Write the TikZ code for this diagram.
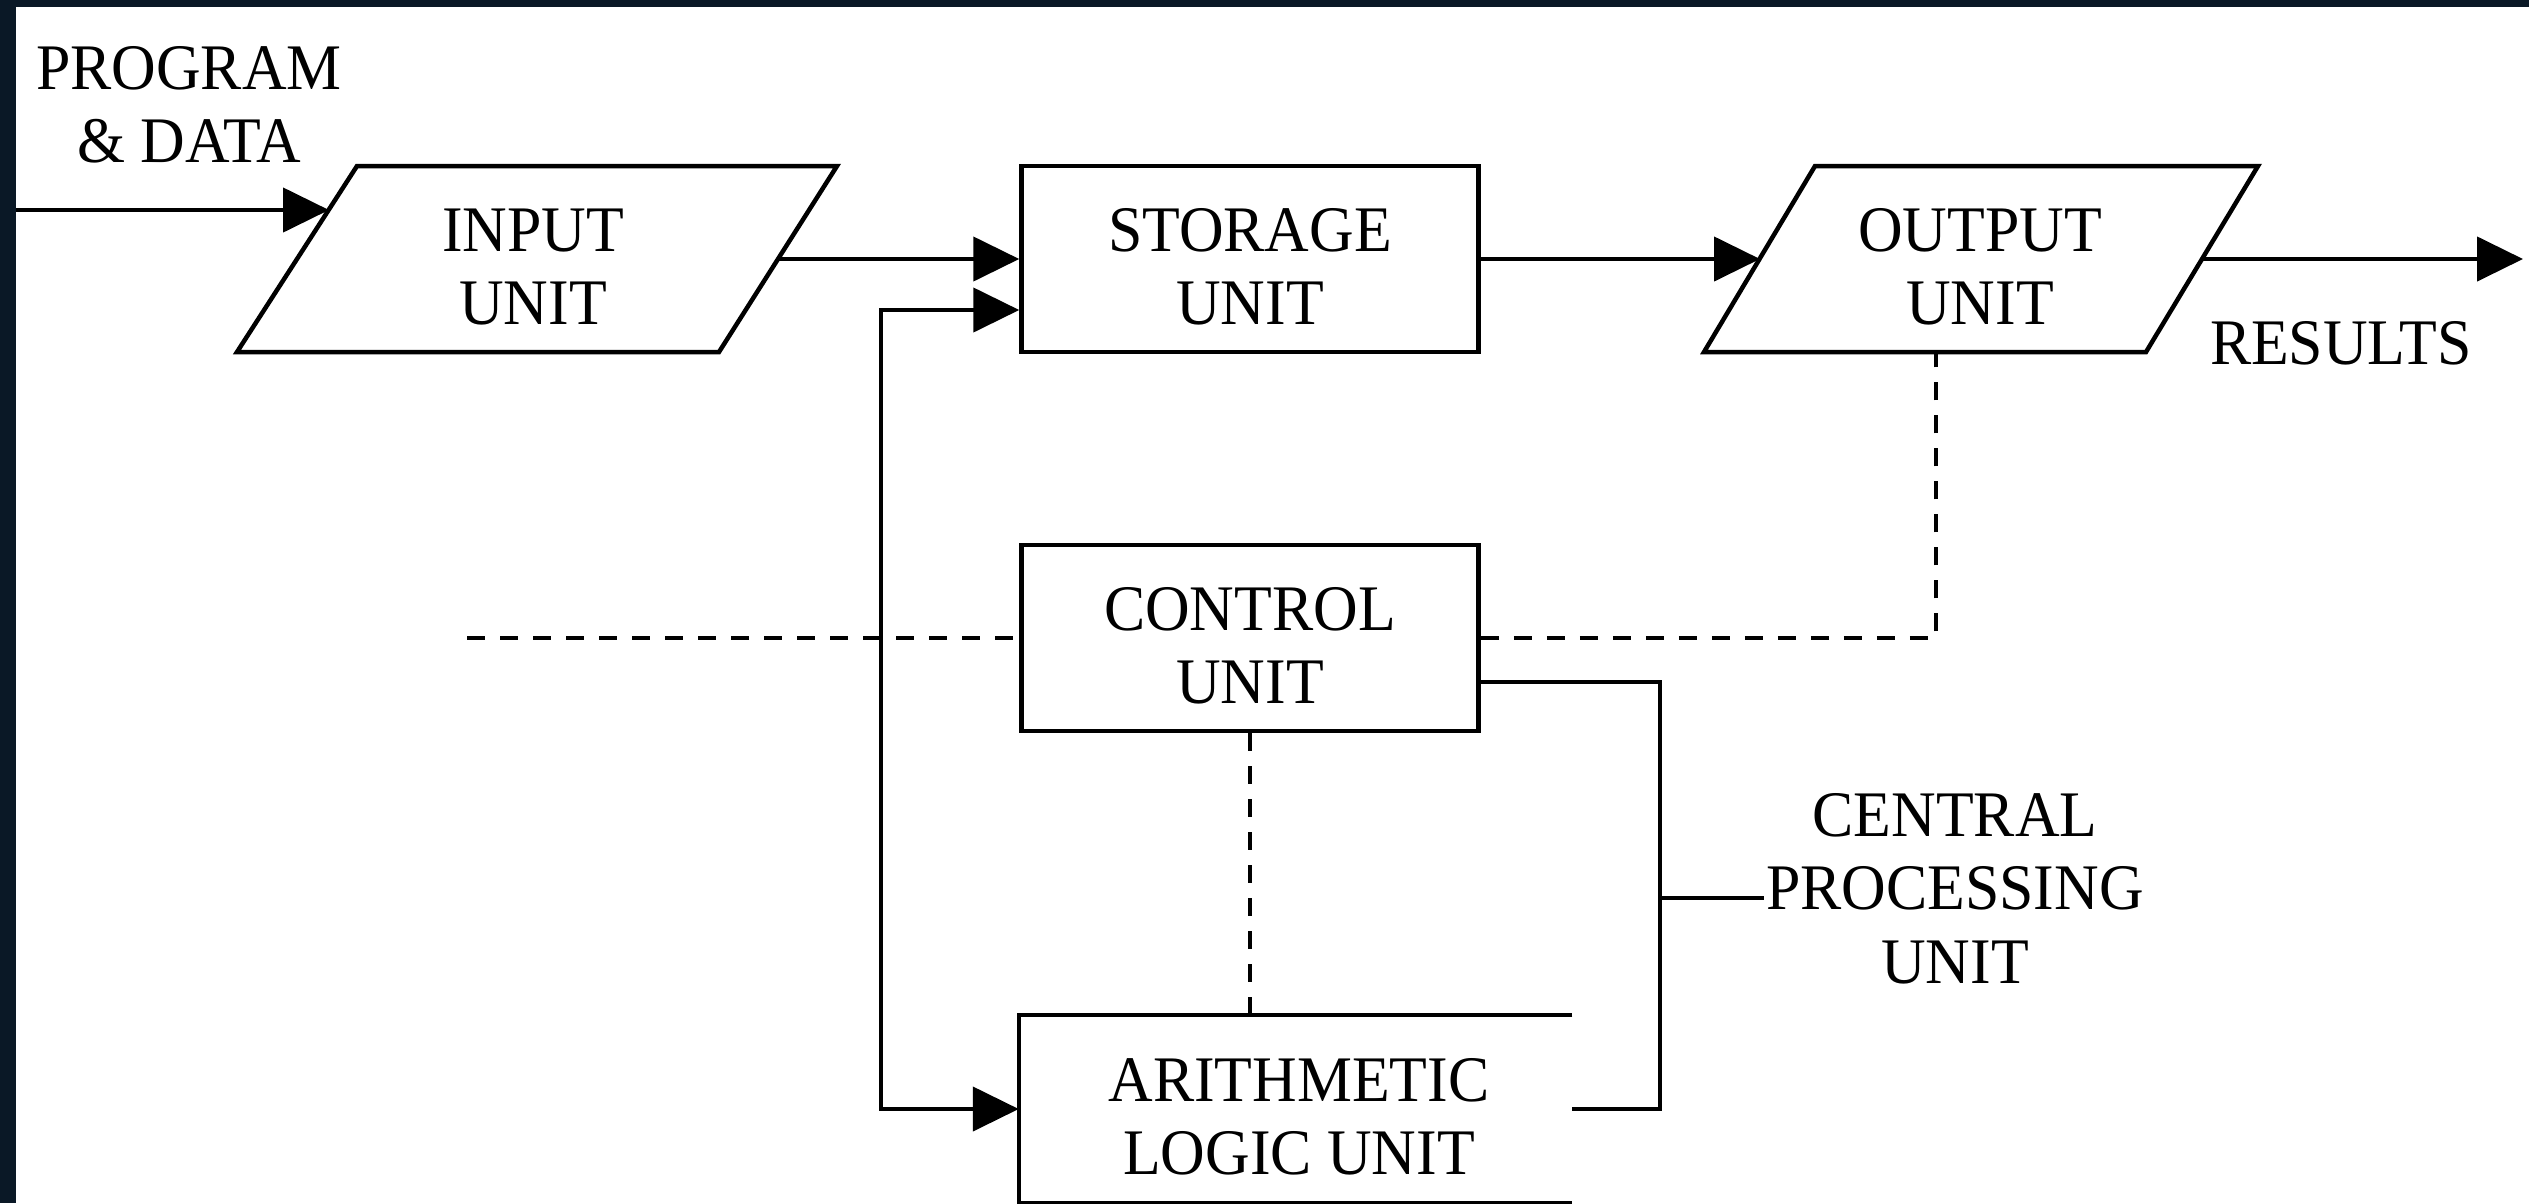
\documentclass[tikz,border=0pt]{standalone}
\usepackage{fontspec}
\setmainfont[FakeStretch=0.95]{Liberation Serif}
\usetikzlibrary{arrows.meta}
\definecolor{navyband}{RGB}{10,24,38}
\begin{document}
\begin{tikzpicture}[x=1pt,y=-1pt,line width=4.5pt,
  box/.style={draw,rectangle,minimum width=457pt,minimum height=186pt,inner sep=0pt},
  lbl/.style={align=center,font=\fontsize{65}{73.5}\selectfont,inner sep=0pt},
  arr/.style={-{Triangle[length=46pt,width=44pt]}},
  arrboth/.style={{Triangle[length=46pt,width=44pt]}-{Triangle[length=46pt,width=44pt]}},
  dsh/.style={dash pattern=on 18pt off 15pt}]
\useasboundingbox (0,0) rectangle (2529,1203);
\fill[white] (0,0) rectangle (2529,1203);
\fill[navyband] (0,0) rectangle (2529,7);
\fill[navyband] (0,0) rectangle (16,1203);

% boxes
\node[box] (stor) at (1250,259) {};
\node[lbl] (storT) at (1250,267) {STORAGE\\UNIT};
\node[box] (ctrl) at (1250,638) {};
\node[lbl] (ctrlT) at (1250,646) {CONTROL\\UNIT};
\node[minimum width=549pt,minimum height=184pt,inner sep=0pt] (alu) at (1295.5,1109) {};
\draw (alu.north east) -- (alu.north west) -- (alu.south west) -- (alu.south east);
\node[lbl] (aluT) at (1299,1117) {ARITHMETIC\\LOGIC UNIT};

% input parallelogram
\coordinate (iTL) at (357,166);
\coordinate (iTR) at (837,166);
\coordinate (iBR) at (719,352);
\coordinate (iBL) at (237,352);
\draw (iTL) -- (iTR) -- (iBR) -- (iBL) -- cycle;
\node[lbl] (inT) at (533,267) {INPUT\\UNIT};
\coordinate (inW) at (329,210);
\coordinate (inE) at (778,259);

% output parallelogram
\coordinate (oTL) at (1815,166);
\coordinate (oTR) at (2258,166);
\coordinate (oBR) at (2146,352);
\coordinate (oBL) at (1704,352);
\draw (oTL) -- (oTR) -- (oBR) -- (oBL) -- cycle;
\node[lbl] (outT) at (1980,267) {OUTPUT\\UNIT};
\coordinate (outW) at (1760,259);
\coordinate (outE) at (2202,259);
\coordinate (outS) at (1936,352);

% labels
\node[lbl] (pd) at (189,105) {PROGRAM\\\& DATA};
\node[lbl] (resT) at (2341,343) {RESULTS};
\node[lbl] (cpuT) at (1955,888.5) {CENTRAL\\PROCESSING\\UNIT};

% solid connectors
\coordinate (src) at (16,210);
\coordinate (res) at (2523,259);
\draw[arr] (src) -- (inW);
\draw[arr] (inE) -- (stor.west);
\draw[arr] (stor.east) -- (outW);
\draw[arr] (outE) -- (res);
\coordinate (lp1) at (881,310);
\coordinate (lp2) at (881,1109);
\draw[arrboth] (stor.west |- lp1) -- (lp1) -- (lp2) -- (alu.west);
\coordinate (cpuTop) at (1660,682);
\coordinate (cpuBot) at (1660,1109);
\coordinate (cpuJ) at (1660,898);
\draw (ctrl.east |- cpuTop) -- (cpuTop) -- (cpuBot) -- (alu.east);
\draw (cpuJ) -- (cpuT.west |- cpuJ);

% dashed connectors
\coordinate (dL) at (467,638);
\draw[dsh] (dL) -- (ctrl.west);
\draw[dsh] (ctrl.east) -- (outS |- ctrl.east) -- (outS);
\draw[dsh] (ctrl.south) -- (ctrl.south |- alu.north);
\end{tikzpicture}
\end{document}
